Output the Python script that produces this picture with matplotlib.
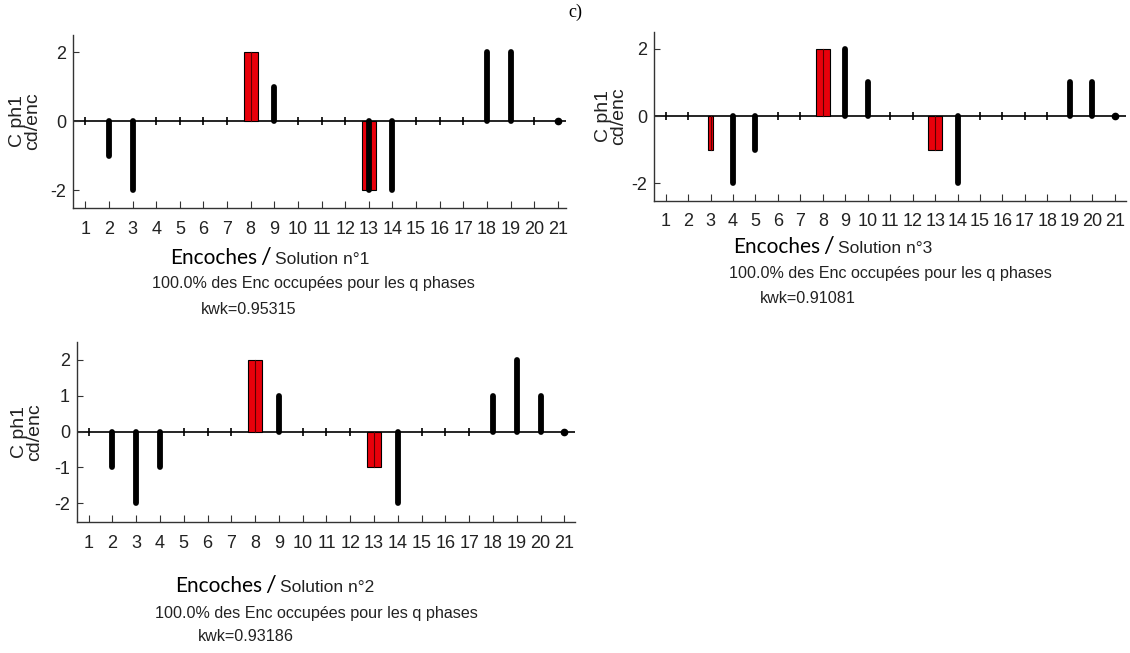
from matplotlib import pyplot as plt
from matplotlib import font_manager
import numpy as np

plt.rcParams['axes.unicode_minus'] = False

# slots 1..21, coil sides per slot for phase 1
slots = list(range(1, 22))

sol1_black = [0, -1, -2, 0, 0, 0, 0, 0, 1, 0, 0, 0, -2, -2, 0, 0, 0, 2, 2, 0, 0]
sol1_red = [0, 0, 0, 0, 0, 0, 0, 2, 0, 0, 0, 0, -2, 0, 0, 0, 0, 0, 0, 0, 0]

sol2_black = [0, -1, -2, -1, 0, 0, 0, 0, 1, 0, 0, 0, 0, -2, 0, 0, 0, 1, 2, 1, 0]
sol2_red = [0, 0, 0, 0, 0, 0, 0, 2, 0, 0, 0, 0, -1, 0, 0, 0, 0, 0, 0, 0, 0]

sol3_black = [0, 0, 0, -2, -1, 0, 0, 0, 2, 1, 0, 0, 0, -2, 0, 0, 0, 0, 1, 1, 0]
sol3_red = [0, 0, -1, 0, 0, 0, 0, 2, 0, 0, 0, 0, -1, 0, 0, 0, 0, 0, 0, 0, 0]

kwk = {1: 0.95315, 2: 0.93186, 3: 0.91081}
occupation = "100.0% des Enc occupées pour les q phases"

W, H = 1130, 653
names = {f.name for f in font_manager.fontManager.ttflist}
narrow = 'Liberation Sans Narrow' if 'Liberation Sans Narrow' in names else 'Liberation Sans'
RED = '#e8000b'


def rect(l, r, t, b):
    return [l / W, 1 - b / H, (r - l) / W, (b - t) / H]


def panel(fig, box, black, red, xlim, yticks, red_widths):
    ax = fig.add_axes(rect(*box))
    x = np.array(slots)
    black = np.array(black)
    red = np.array(red)

    ax.axhline(0, color='black', lw=1.2, zorder=1)
    # red bars
    for xi, v in zip(x, red):
        if v != 0:
            ax.bar(xi, v, width=red_widths.get(xi, 0.6), color=RED,
                   edgecolor='black', lw=0.8, zorder=2)
            ax.plot([xi, xi], [0, v], color='#5a0000', lw=0.8, zorder=3)
    # black stems
    nz = black != 0
    lc = ax.vlines(x[nz], 0, black[nz], color='black', lw=4.2, zorder=4)
    lc.set_capstyle('round')
    # zero slots
    empty = (black == 0) & (red == 0)
    ax.plot(x[empty][:-1], np.zeros(empty.sum() - 1), ls='none', marker='|',
            ms=6, mew=1.2, color='black', zorder=5)
    ax.plot(x[-1], 0, ls='none', marker='o', ms=4.5, color='black', zorder=5)

    ax.set_xlim(*xlim)
    ax.set_ylim(-2.52, 2.5)
    ax.set_xticks(slots)
    ax.set_yticks(yticks)
    for s in ['top', 'right']:
        ax.spines[s].set_visible(False)
    for s in ['left', 'bottom']:
        ax.spines[s].set_color('#333333')
        ax.spines[s].set_linewidth(1.0)
    ax.tick_params(axis='x', direction='in', length=5, pad=9, labelsize=13,
                   color='#333333')
    ax.tick_params(axis='y', direction='in', length=4, pad=5, labelsize=13,
                   color='#333333')
    for lab in ax.get_xticklabels() + ax.get_yticklabels():
        lab.set_family(narrow)
        lab.set_color('#222222')
    ax.patch.set_alpha(0)
    return ax


def caption(fig, n, x_enc, y_enc, x_occ, y_occ, x_kwk, y_kwk):
    fig.text(x_enc / W, 1 - y_enc / H, "Encoches", family='Lato', fontsize=15,
             va='baseline', color='black')
    fig.text((x_enc + 90) / W, 1 - y_enc / H, "/", family='Lato', fontsize=17,
             va='baseline', color='black')
    fig.text((x_enc + 105) / W, 1 - y_enc / H, "Solution n°%d" % n, family=narrow,
             fontsize=12.5, va='baseline', color='#222222')
    fig.text(x_occ / W, 1 - y_occ / H, occupation, family=narrow, fontsize=11.6,
             va='baseline', color='#222222')
    fig.text(x_kwk / W, 1 - y_kwk / H, "kwk=%.5f" % kwk[n], family=narrow,
             fontsize=11.6, va='baseline', color='#222222')


fig = plt.figure(figsize=(W / 100, H / 100), dpi=100)
fig.patch.set_facecolor('white')

panel(fig, (73, 566, 35, 208), sol1_black, sol1_red, (0.475, 21.35), [-2, 0, 2], {})
panel(fig, (654, 1126, 32, 201), sol3_black, sol3_red, (0.48, 21.5), [-2, 0, 2], {3: 0.24})
panel(fig, (77, 575, 342, 522), sol2_black, sol2_red, (0.51, 21.45), [-2, -1, 0, 1, 2], {})

for (xc, yc) in [(25, 121), (611, 116), (27, 432)]:
    fig.text(xc / W, 1 - yc / H, "C ph1\ncd/enc", rotation=90, ha='center', va='center',
             family='Liberation Sans', fontsize=14, linespacing=0.85, color='#222222')

caption(fig, 1, 170, 264, 152, 288, 201, 314)
caption(fig, 3, 733, 253, 729, 278, 760, 303)
caption(fig, 2, 175, 592, 155, 618, 198, 641)

fig.text(568 / W, 1 - 17 / H, "c)", family='Liberation Serif', fontsize=13, va='baseline')

fig.savefig('out.png', dpi=100)
